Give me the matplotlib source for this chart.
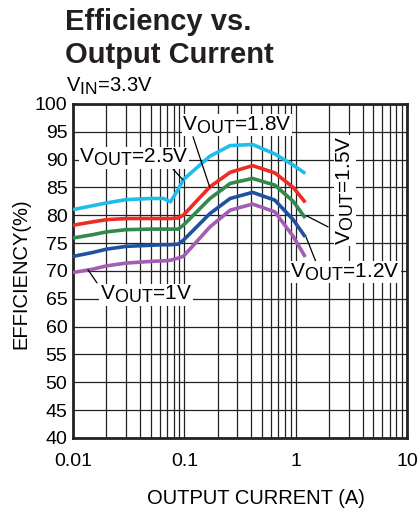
import matplotlib
matplotlib.use("Agg")
import matplotlib.pyplot as plt
import matplotlib._mathtext as mathtext_internals
from matplotlib.ticker import FixedLocator, LogLocator, NullFormatter

plt.rcParams["font.family"] = ["Liberation Sans", "DejaVu Sans"]
plt.rcParams["mathtext.fontset"] = "custom"
plt.rcParams["mathtext.rm"] = "Liberation Sans"
# subscripts in the datasheet are nearly full size
mathtext_internals.SHRINK_FACTOR = 0.86

# --- data ------------------------------------------------------------------
current_a = [0.01, 0.015, 0.02, 0.03, 0.05, 0.065, 0.075, 0.088, 0.098,
             0.17, 0.258, 0.41, 0.65, 0.95, 1.22]
eff_cyan = [81.0, 81.7, 82.2, 82.8, 83.0, 83.0, 82.4, 84.6, 86.4,
            90.6, 92.5, 92.7, 91.0, 89.0, 87.5]
eff_red = [78.2, 78.8, 79.2, 79.4, 79.4, 79.4, 79.4, 79.5, 80.0,
           85.1, 87.7, 88.9, 87.6, 85.0, 82.3]
eff_green = [75.9, 76.5, 77.0, 77.4, 77.5, 77.5, 77.5, 77.5, 78.2,
             83.0, 85.7, 86.6, 85.4, 82.5, 79.5]
eff_blue = [72.6, 73.3, 73.9, 74.4, 74.6, 74.7, 74.7, 74.8, 75.5,
            80.3, 83.0, 84.1, 82.7, 79.2, 76.1]
eff_purple = [69.7, 70.3, 70.9, 71.4, 71.7, 71.8, 71.9, 72.3, 72.6,
              77.9, 80.9, 82.0, 80.6, 76.2, 72.5]

y_ticks = list(range(40, 101, 5))
x_ticks = [0.01, 0.1, 1, 10]
x_ticklabels = ["0.01", "0.1", "1", "10"]

series = [
    (eff_cyan, "#1fbde9"),
    (eff_red, "#ee2b24"),
    (eff_green, "#2f8a4c"),
    (eff_blue, "#1f51a2"),
    (eff_purple, "#a35db3"),
]

fig = plt.figure(figsize=(4.17, 5.14), dpi=100)
ax = fig.add_axes([0.175, 0.148, 0.801, 0.650])

for vals, col in series:
    ax.plot(current_a, vals, color=col, lw=2.6, solid_capstyle="butt", zorder=3)

ax.set_xscale("log")
ax.set_xlim(0.01, 10)
ax.set_ylim(40, 100)
ax.xaxis.set_major_locator(FixedLocator(x_ticks))
ax.set_xticklabels(x_ticklabels)
ax.xaxis.set_minor_locator(LogLocator(base=10, subs=range(2, 10)))
ax.xaxis.set_minor_formatter(NullFormatter())
ax.set_yticks(y_ticks)
ax.grid(True, which="both", color="#222222", lw=0.9, zorder=1)
ax.tick_params(which="both", length=0, labelsize=14)
ax.tick_params(axis="x", pad=11)
ax.tick_params(axis="y", pad=4)
for sp in ax.spines.values():
    sp.set_linewidth(2.0)
    sp.set_color("#222222")

# --- curve labels with leader lines ----------------------------------------
box = dict(fc="white", ec="none", pad=0.5)
lab_kw = dict(fontsize=15, ha="center", va="center", bbox=box, zorder=4)
lead_kw = dict(arrowstyle="-", lw=0.9, color="black", shrinkA=0, shrinkB=0)

ax.text(0.0353, 90.3, r"$\mathregular{V_{OUT}}$=2.5V", **lab_kw)
ax.annotate("", xy=(0.0973, 86.35), xytext=(0.079, 88.3), arrowprops=lead_kw)

ax.text(0.297, 96.2, r"$\mathregular{V_{OUT}}$=1.8V", **lab_kw)
ax.annotate("", xy=(0.170, 84.9), xytext=(0.1197, 94.1), arrowprops=lead_kw)

ax.text(2.78, 84.5, r"$\mathregular{V_{OUT}}$=1.5V", rotation=90, **lab_kw)
ax.annotate("", xy=(1.25, 79.9), xytext=(1.955, 77.9), arrowprops=lead_kw)

ax.text(2.78, 69.8, r"$\mathregular{V_{OUT}}$=1.2V", **lab_kw)
ax.annotate("", xy=(1.24, 76.1), xytext=(1.556, 71.1), arrowprops=lead_kw)

ax.text(0.0453, 65.7, r"$\mathregular{V_{OUT}}$=1V", **lab_kw)
ax.annotate("", xy=(0.01364, 70.2), xytext=(0.01643, 67.85), arrowprops=lead_kw)

# --- titles and axis labels --------------------------------------------------
fig.text(65 / 417, 1 - 30 / 514, "Efficiency vs.", fontsize=21,
         fontweight="bold", ha="left", va="baseline", color="#231f20")
fig.text(65 / 417, 1 - 63 / 514, "Output Current", fontsize=21,
         fontweight="bold", ha="left", va="baseline", color="#231f20")
fig.text(66 / 417, 1 - 92 / 514, r"$\mathregular{V_{IN}}$=3.3V", fontsize=14.5,
         ha="left", va="baseline")
fig.text(256 / 417, 1 - 499 / 514, "OUTPUT CURRENT (A)", fontsize=14.5,
         ha="center", va="center")
fig.text(21 / 417, 1 - 274 / 514, "EFFICIENCY(%)", fontsize=14.5,
         ha="center", va="center", rotation=90)

fig.savefig("out.png", dpi=100)
